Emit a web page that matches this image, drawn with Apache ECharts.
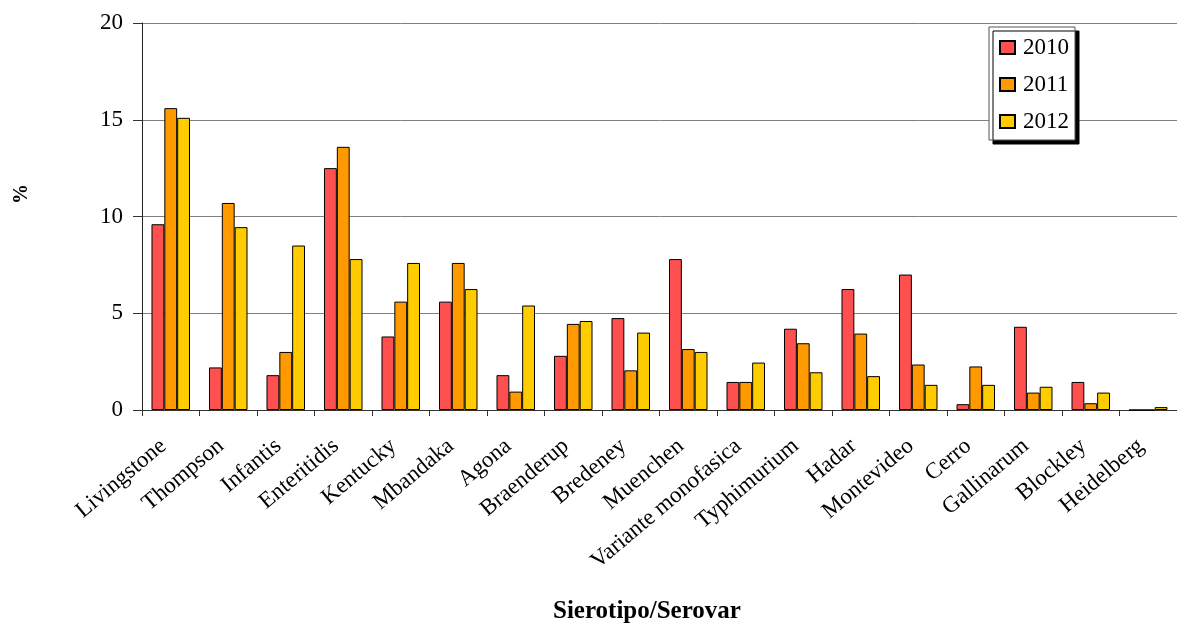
<!DOCTYPE html>
<html>
<head>
<meta charset="utf-8">
<script src="https://cdn.jsdelivr.net/npm/echarts@6/dist/echarts.min.js"></script>
<style>
  html, body { margin: 0; padding: 0; background: #fff; }
  #chart { width: 1177px; height: 625px; }
</style>
</head>
<body>
<div id="chart"></div>
<script>
// Serovar shares (%) by year
const serovars = ['Livingstone', 'Thompson', 'Infantis', 'Enteritidis', 'Kentucky', 'Mbandaka',
  'Agona', 'Braenderup', 'Bredeney', 'Muenchen', 'Variante monofasica', 'Typhimurium',
  'Hadar', 'Montevideo', 'Cerro', 'Gallinarum', 'Blockley', 'Heidelberg'];
const years = ['2010', '2011', '2012'];
const values2010 = [9.6, 2.2, 1.8, 12.5, 3.8, 5.6, 1.8, 2.8, 4.75, 7.8, 1.45, 4.2, 6.25, 7.0, 0.3, 4.3, 1.45, 0];
const values2011 = [15.6, 10.7, 3.0, 13.6, 5.6, 7.6, 0.95, 4.45, 2.05, 3.15, 1.45, 3.45, 3.95, 2.35, 2.25, 0.9, 0.35, 0];
const values2012 = [15.1, 9.45, 8.5, 7.8, 7.6, 6.25, 5.4, 4.6, 4.0, 3.0, 2.45, 1.95, 1.75, 1.3, 1.3, 1.2, 0.9, 0.15];
const yTicks = { min: 0, max: 20, step: 5 };

const colors = ['#FF5050', '#FF9900', '#FFCC00'];
const serif = '"Liberation Serif", "Times New Roman", serif';

const chart = echarts.init(document.getElementById('chart'), null, { renderer: 'canvas' });

const seriesData = [values2010, values2011, values2012];

chart.setOption({
  animation: false,
  backgroundColor: '#ffffff',
  textStyle: { fontFamily: serif, color: '#000' },
  grid: { left: 142, top: 23, bottom: 215, right: -3, containLabel: false },
  legend: {
    orient: 'vertical',
    left: 989,
    top: 27,
    padding: [9, 6, 7, 10],
    itemWidth: 15,
    itemHeight: 13,
    itemGap: 14,
    icon: 'rect',
    backgroundColor: '#ffffff',
    borderColor: '#555',
    borderWidth: 1,
    shadowColor: '#000',
    shadowBlur: 0,
    shadowOffsetX: 4,
    shadowOffsetY: 4,
    textStyle: { fontFamily: serif, fontSize: 23, lineHeight: 22, color: '#000', padding: [0, 0, 0, 3] },
    data: years
  },
  xAxis: {
    type: 'category',
    data: serovars,
    axisLine: { lineStyle: { color: '#333', width: 1 } },
    axisTick: { show: true, length: 6, lineStyle: { color: '#333' } },
    axisLabel: {
      interval: 0,
      rotate: 40,
      margin: 42,
      verticalAlign: 'bottom',
      fontFamily: serif,
      fontSize: 23,
      color: '#000'
    },
    splitLine: { show: false }
  },
  yAxis: {
    type: 'value',
    min: yTicks.min,
    max: yTicks.max,
    interval: yTicks.step,
    axisLine: { show: true, lineStyle: { color: '#222', width: 1 } },
    axisTick: { show: true, inside: false, length: 9, lineStyle: { color: '#333' } },
    axisLabel: { margin: 19, fontFamily: serif, fontSize: 23, color: '#000' },
    splitLine: { show: true, lineStyle: { color: '#808080', width: 1 } }
  },
  series: years.map((y, i) => ({
    name: y,
    type: 'bar',
    data: seriesData[i],
    barGap: '0%',
    barCategoryGap: '33%',
    itemStyle: { color: colors[i], borderColor: '#000', borderWidth: 1 }
  })),
  graphic: [
    {
      type: 'text',
      left: 12,
      top: 184,
      rotation: Math.PI / 2,
      style: { text: '%', font: 'bold 20px ' + serif, fill: '#000' }
    },
    {
      type: 'text',
      left: 553,
      top: 599,
      style: { text: 'Sierotipo/Serovar', font: 'bold 25px ' + serif, fill: '#000' }
    }
  ]
});
</script>
</body>
</html>
